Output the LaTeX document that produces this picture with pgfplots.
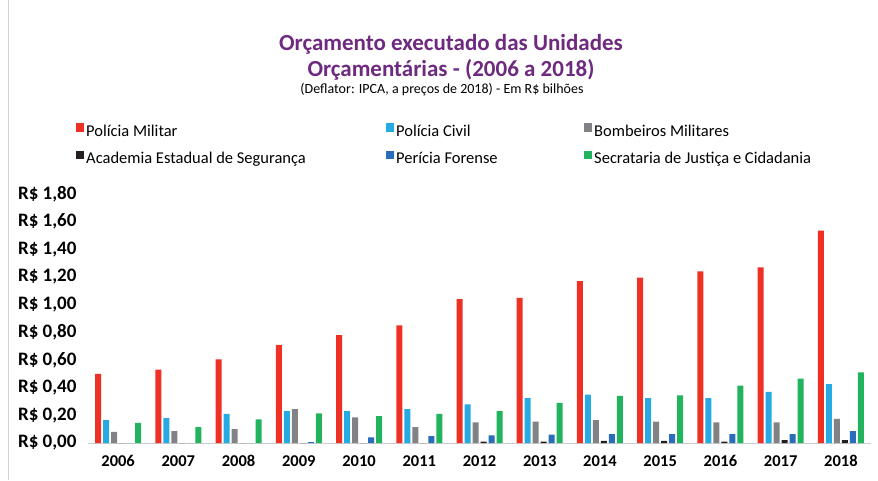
\documentclass[border=0pt]{standalone}
\usepackage{pgfplots}
\pgfplotsset{compat=1.18}
\usepackage{fontspec}
\setmainfont{Carlito}
\definecolor{cPM}{HTML}{EE3124}
\definecolor{cPC}{HTML}{27AAE1}
\definecolor{cBM}{HTML}{808285}
\definecolor{cAE}{HTML}{231F20}
\definecolor{cPF}{HTML}{2A6EBB}
\definecolor{cSJ}{HTML}{21B35D}
\definecolor{cTitle}{HTML}{6E2A7E}
\begin{document}
\begin{tikzpicture}[x=1pt,y=1pt]
\path[use as bounding box] (0,0) rectangle (878,480);
\draw[gray!35, line width=1pt] (8,0) -- (8,480);
\node[font=\bfseries\fontsize{23}{26}\selectfont, text=cTitle, align=center] at (451,423) {Orçamento executado das Unidades\\Orçamentárias - (2006 a 2018)};
\node[font=\fontsize{14}{16}\selectfont] at (442,390) {(Deflator: IPCA, a preços de 2018) - Em R\$ bilhões};
\begin{axis}[
  at={(88pt,37pt)}, anchor=south west, scale only axis,
  width=783pt, height=249pt,
  ymin=0, ymax=1.8, xmin=-0.5, xmax=12.5,
  ybar=2pt, bar width=6pt,
  ytick={0,0.2,0.4,0.6,0.8,1.0,1.2,1.4,1.6,1.8},
  xtick={0,1,2,3,4,5,6,7,8,9,10,11,12},
  xticklabels={2006,2007,2008,2009,2010,2011,2012,2013,2014,2015,2016,2017,2018},
  /pgf/number format/assume math mode=true,
  yticklabel={R\$ \pgfmathprintnumber[fixed,fixed zerofill,precision=2,use comma]{\tick}},
  axis x line=bottom, axis y line=left,
  y axis line style={draw=none},
  x axis line style={draw=gray!40, line width=1pt, -},
  major tick length=0pt,
  xticklabel style={font=\bfseries\fontsize{16.5}{18}\selectfont, yshift=-9pt},
  yticklabel style={font=\bfseries\fontsize{19}{20}\selectfont, xshift=-8pt},
  legend columns=3,
  legend cell align=left,
  legend style={at={(-0.0153,1.285)}, anchor=north west, draw=none, fill=none,
    font=\fontsize{16.5}{19}\selectfont, inner sep=0pt, row sep=12pt,
    nodes={inner xsep=2pt, inner ysep=1pt}},
  legend image code/.code={\fill[#1,draw=none] (0pt,-0.5pt) rectangle (8pt,8pt);},
  every axis plot/.append style={draw=none},
]
\addplot[fill=cPM] coordinates {(0,0.50) (1,0.53) (2,0.605) (3,0.71) (4,0.78) (5,0.85) (6,1.04) (7,1.05) (8,1.17) (9,1.195) (10,1.24) (11,1.27) (12,1.535)};
\addplot[fill=cPC] coordinates {(0,0.165) (1,0.18) (2,0.21) (3,0.23) (4,0.23) (5,0.245) (6,0.28) (7,0.325) (8,0.35) (9,0.325) (10,0.325) (11,0.37) (12,0.425)};
\addplot[fill=cBM] coordinates {(0,0.08) (1,0.085) (2,0.10) (3,0.245) (4,0.185) (5,0.115) (6,0.15) (7,0.155) (8,0.165) (9,0.155) (10,0.15) (11,0.15) (12,0.175)};
\addplot[fill=cAE] coordinates {(0,0) (1,0) (2,0) (3,0) (4,0) (5,0) (6,0.01) (7,0.01) (8,0.015) (9,0.015) (10,0.01) (11,0.02) (12,0.02)};
\addplot[fill=cPF] coordinates {(0,0) (1,0) (2,0) (3,0.006) (4,0.04) (5,0.05) (6,0.055) (7,0.06) (8,0.065) (9,0.065) (10,0.065) (11,0.065) (12,0.085)};
\addplot[fill=cSJ] coordinates {(0,0.145) (1,0.115) (2,0.17) (3,0.215) (4,0.195) (5,0.21) (6,0.23) (7,0.29) (8,0.34) (9,0.345) (10,0.415) (11,0.465) (12,0.51)};
\legend{\makebox[298pt][l]{Polícia Militar},\makebox[186pt][l]{Polícia Civil},Bombeiros Militares,\makebox[298pt][l]{Academia Estadual de Segurança},\makebox[186pt][l]{Perícia Forense},Secrataria de Justiça e Cidadania}
\end{axis}
\end{tikzpicture}
\end{document}
